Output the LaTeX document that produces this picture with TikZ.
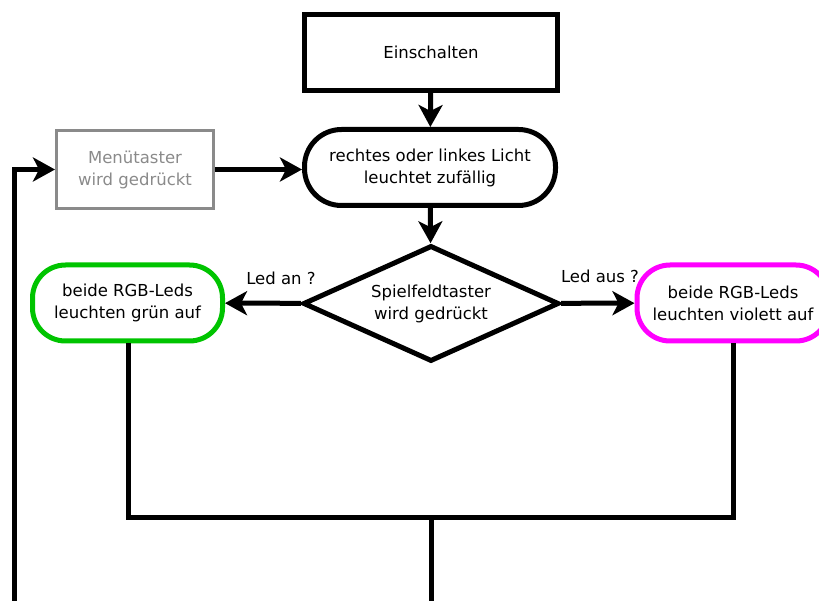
\documentclass[tikz,border=0pt]{standalone}
\usepackage{fontspec}
\setmainfont{DejaVu Sans}
\usetikzlibrary{arrows.meta,shapes.geometric}
\definecolor{grnC}{HTML}{00C400}
\definecolor{magC}{HTML}{FF00FF}
\definecolor{gryC}{HTML}{8A8A8A}
\tikzset{
  base/.style={draw, line width=5pt, align=center, inner sep=0pt,
    font=\fontsize{16.5pt}{22pt}\selectfont},
  plainbox/.style={base, rectangle},
  term/.style={base, rectangle, rounded corners=37pt},
  grnbox/.style={base, rectangle, rounded corners=33pt, draw=grnC},
  magbox/.style={base, rectangle, rounded corners=33pt, draw=magC},
  menubox/.style={base, rectangle, draw=gryC, line width=3pt, text=gryC},
  decide/.style={base, diamond, aspect=2.2},
  conn/.style={line width=5pt, -{Stealth[length=22pt,width=24pt,inset=6pt]}},
  wire/.style={line width=5pt},
  lbl/.style={font=\fontsize{16.5pt}{22pt}\selectfont}
}
\begin{document}
\begin{tikzpicture}[x=1pt,y=-1pt]
\useasboundingbox (0,0) rectangle (819,601);
\node[plainbox, minimum width=253pt, minimum height=76pt] (ein) at (431,52.5) {Einschalten};
\node[term, minimum width=251pt, minimum height=76pt] (licht) at (430,167.5) {rechtes oder linkes Licht\\leuchtet zufällig};
\node[menubox, minimum width=157pt, minimum height=78pt] (menu) at (135,169.5) {Menütaster\\wird gedrückt};
\node[decide, minimum width=256pt, minimum height=116pt] (spiel) at (431,303.5) {Spielfeldtaster\\wird gedrückt};
\node[grnbox, minimum width=190pt, minimum height=76pt] (gruen) at (127.5,303) {beide RGB-Leds\\leuchten grün auf};
\node[magbox, minimum width=192pt, minimum height=76pt] (viol) at (733,303) {beide RGB-Leds\\leuchten violett auf};
\node[lbl] (lan) at (281,278) {Led an ?};
\node[lbl] (laus) at (600,276) {Led aus ?};
\coordinate (lb) at (14,603);
\coordinate (mb) at (431,603);
\coordinate (jl) at (128,517);
\coordinate (jr) at (733,517);
\coordinate (jm) at (431,517);
\draw[conn] (ein) -- (licht);
\draw[conn] (menu) -- (licht.west |- menu);
\draw[conn] (lb) |- (menu);
\draw[conn] (licht) -- (spiel);
\draw[conn] (spiel) -- (gruen);
\draw[conn] (spiel) -- (viol);
\draw[wire] (gruen.south -| jl) -- (jl) -- (jr) -- (viol.south -| jr);
\draw[wire] (jm) -- (mb);
\end{tikzpicture}
\end{document}
